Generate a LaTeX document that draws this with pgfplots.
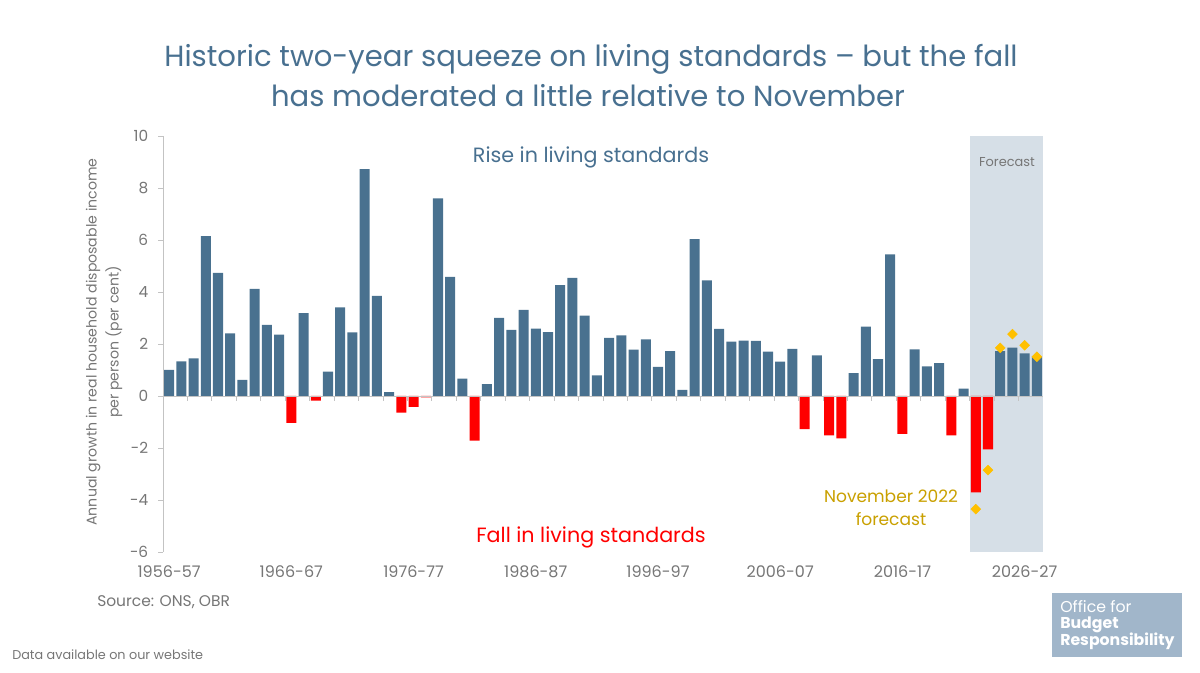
\documentclass[border=0pt]{standalone}
\usepackage{pgfplots}
\pgfplotsset{compat=1.18}
\usepackage{pgfplotstable}
\usepackage{fontspec}
\setmainfont{Poppins}

\definecolor{obrblue}{RGB}{73,113,143}
\definecolor{titleblue}{RGB}{72,112,144}
\definecolor{fallred}{RGB}{255,0,0}
\definecolor{fcshade}{RGB}{214,223,231}
\definecolor{novgold}{RGB}{255,192,0}
\definecolor{novtext}{RGB}{201,160,0}
\definecolor{txtgrey}{RGB}{118,118,118}
\definecolor{axisgrey}{RGB}{195,195,195}
\definecolor{logoblue}{RGB}{161,182,202}

% Annual growth in real household disposable income per person (per cent),
% 1956-57 (i = 0) to 2027-28 (i = 71)
\pgfplotstableread{
i g
0 1.00
1 1.33
2 1.45
3 6.15
4 4.74
5 2.41
6 0.62
7 4.12
8 2.74
9 2.36
10 -1.03
11 3.19
12 -0.18
13 0.94
14 3.41
15 2.45
16 8.73
17 3.85
18 0.15
19 -0.64
20 -0.42
21 -0.05
22 7.60
23 4.58
24 0.67
25 -1.72
26 0.46
27 3.00
28 2.54
29 3.31
30 2.59
31 2.46
32 4.26
33 4.54
34 3.09
35 0.79
36 2.24
37 2.33
38 1.78
39 2.18
40 1.12
41 1.73
42 0.24
43 6.03
44 4.45
45 2.58
46 2.09
47 2.13
48 2.12
49 1.71
50 1.32
51 1.81
52 -1.27
53 1.56
54 -1.51
55 -1.63
56 0.88
57 2.67
58 1.42
59 5.45
60 -1.46
61 1.79
62 1.14
63 1.26
64 -1.51
65 0.28
66 -3.71
67 -2.05
68 1.73
69 1.86
70 1.64
71 1.51
}\rhdi

% November 2022 forecast
\pgfplotstableread{
i g
66 -4.35
67 -2.85
68 1.85
69 2.38
70 1.95
71 1.51
}\novfc

\begin{document}
\begin{tikzpicture}
\begin{scope}[x=0.75pt,y=-0.75pt]
\useasboundingbox (0,0) rectangle (1200,673);
\end{scope}

\begin{axis}[
  at={(122.25pt,-102pt)}, anchor=north west,
  scale only axis, width=660pt, height=312pt,
  xmin=-0.5, xmax=71.5, ymin=-6, ymax=10,
  axis line style={draw=none},
  xtick={0,10,...,70},
  xticklabels={1956-57,1966-67,1976-77,1986-87,1996-97,2006-07,2016-17,2026-27},
  xtick style={draw=none},
  xticklabel style={font=\fontsize{12}{14}\selectfont, text=txtgrey, anchor=base, yshift=-19.5pt},
  ytick={-6,-4,...,10},
  yticklabels={-6,-4,-2,0,2,4,6,8,10},
  ytick pos=left,
  ytick align=outside,
  ytick style={draw=axisgrey, line width=0.6pt},
  major tick length=3.4pt,
  yticklabel style={font=\fontsize{11.5}{13}\selectfont, text=txtgrey, anchor=east, inner sep=0pt, xshift=-7.5pt},
  clip=false,
]
% forecast period
\addplot[fill=fcshade, draw=none] coordinates {(65.5,-6) (65.5,10) (71.5,10) (71.5,-6)} -- cycle;

% rises
\addplot[ybar, bar width=0.82, bar shift=0pt, fill=obrblue, draw=none,
  y filter/.expression={y<0 ? nan : y}] table[x=i, y=g] {\rhdi};
% falls
\addplot[ybar, bar width=0.82, bar shift=0pt, fill=fallred, draw=none,
  y filter/.expression={y<0 ? y : nan}] table[x=i, y=g] {\rhdi};

% axis lines
\draw[axisgrey, line width=0.6pt] (-0.5,-6) -- (-0.5,10);
\draw[axisgrey, line width=0.6pt] (-0.5,0) -- (71.5,0);
\pgfplotsinvokeforeach{1.5,3.5,...,69.5}{
  \draw[axisgrey, line width=0.6pt] (#1,0) -- ++(0pt,-3.5pt);
}

% November 2022 forecast markers
\addplot[only marks, mark=square*, mark size=2.6pt,
  mark options={rotate=45, fill=novgold, draw=novgold}] table[x=i, y=g] {\novfc};
\end{axis}

\begin{scope}[x=0.75pt,y=-0.75pt]
% title
\node[anchor=base, text=titleblue, font=\fontsize{21.8}{26}\selectfont] at (591,67)
  {Historic two-year squeeze on living standards -- but the fall};
\node[anchor=base, text=titleblue, font=\fontsize{21.8}{26}\selectfont] at (588,107)
  {has moderated a little relative to November};

% y axis label
\node[rotate=90, align=center, text=txtgrey, font=\fontsize{10.6}{16.5}\selectfont] at (104,342)
  {Annual growth in real household disposable income\\per person (per cent)};

% annotations
\node[anchor=base, text=titleblue, font=\fontsize{15.5}{18}\selectfont] at (591,163) {Rise in living standards};
\node[anchor=base, text=fallred, font=\fontsize{15.5}{18}\selectfont] at (591,542) {Fall in living standards};
\node[anchor=base, text=txtgrey, font=\fontsize{9.7}{11}\selectfont] at (1007,167) {Forecast};
\node[anchor=base, text=novtext, font=\fontsize{12.8}{15}\selectfont] at (891,503) {November 2022};
\node[anchor=base, text=novtext, font=\fontsize{12.8}{15}\selectfont] at (891,525) {forecast};

% footer
\node[anchor=base west, inner sep=0pt, text=txtgrey, font=\fontsize{11.6}{13}\selectfont] at (97,606) {Source: ONS, OBR};
\node[anchor=base west, inner sep=0pt, text=txtgrey, font=\fontsize{9.6}{11}\selectfont] at (12,659) {Data available on our website};

% logo
\fill[logoblue] (1052,593) rectangle (1182,657);
\node[anchor=base west, inner sep=0pt, text=white, font=\fontsize{11.8}{13}\selectfont] at (1060,612) {Office for};
\node[anchor=base west, inner sep=0pt, text=white, font=\bfseries\fontsize{11.8}{13}\selectfont] at (1060,628) {Budget};
\node[anchor=base west, inner sep=0pt, text=white, font=\bfseries\fontsize{11.8}{13}\selectfont] at (1060,645) {Responsibility};
\end{scope}
\end{tikzpicture}
\end{document}
